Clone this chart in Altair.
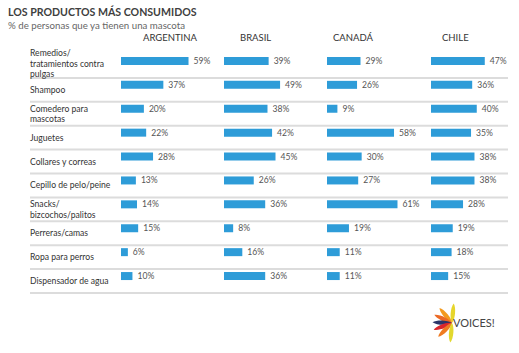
import altair as alt
import pandas as pd

products = [
    "Remedios/\ntratamientos contra\npulgas",
    "Shampoo",
    "Comedero para\nmascotas",
    "Juguetes",
    "Collares y correas",
    "Cepillo de pelo/peine",
    "Snacks/\nbizcochos/palitos",
    "Perreras/camas",
    "Ropa para perros",
    "Dispensador de agua",
]
countries = ["ARGENTINA", "BRASIL", "CANADÁ", "CHILE"]
argentina = [59, 37, 20, 22, 28, 13, 14, 15, 6, 10]
brasil = [39, 49, 38, 42, 45, 26, 36, 8, 16, 36]
canada = [29, 26, 9, 58, 30, 27, 61, 19, 11, 11]
chile = [47, 36, 40, 35, 38, 38, 28, 19, 18, 15]

logo_colors = ["#E6D52B", "#F39A1E", "#EC6A25", "#2B3568", "#D9262C", "#EF7B22", "#E2D82E"]
logo_angles = [5, 320, 295, 272, 250, 225, 185]

series = {"ARGENTINA": argentina, "BRASIL": brasil, "CANADÁ": canada, "CHILE": chile}
rows = []
for c in countries:
    for p, v in zip(products, series[c]):
        rows.append({"country": c, "product": p, "value": v, "label": f"{v}%"})
df = pd.DataFrame(rows)

# one datum per label line; "slot" = line index relative to the middle of the label
line_rows = []
for i, p in enumerate(products):
    parts = p.split("\n")
    n = len(parts)
    for k, t in enumerate(parts):
        line_rows.append({"product": p, "text": t, "slot": k - (n - 1) / 2, "first": i == 0})
df_lines = pd.DataFrame(line_rows)
df_prod = pd.DataFrame({"product": products})
df_logo = pd.DataFrame({"color": logo_colors, "angle": logo_angles})

FONT = "Lato"
BLUE = "#2E9CD8"
GRID = "#DCDCDC"
H = 239
LH = 10.5

yscale = alt.Scale(domain=products, type="band", paddingInner=0, paddingOuter=0)


def ych(**kw):
    return alt.Y("product:N", sort=products, scale=yscale, axis=None, **kw)


def header(text, dx):
    return alt.TitleParams(text, anchor="start", dx=dx, fontSize=9.5, font=FONT,
                           fontWeight="normal", color="#333333", offset=12, frame="group")


label_layers = [
    alt.Chart(df_prod).mark_rule(color=GRID, strokeWidth=2).encode(
        y=ych(bandPosition=1), x=alt.value(22), x2=alt.value(113)),
]
combos = sorted({(r["slot"], r["first"]) for r in line_rows})
for slot, is_first in combos:
    off = slot * LH + (-2 if is_first else 0)
    label_layers.append(
        alt.Chart(df_lines)
        .transform_filter((alt.datum.slot == slot) & (alt.datum.first == is_first))
        .mark_text(align="left", baseline="middle", font=FONT, fontSize=8.6,
                   color="#333333", yOffset=off)
        .encode(y=ych(), x=alt.value(22), text="text:N")
    )
label_panel = alt.layer(*label_layers).properties(width=113, height=H, title=header(" ", 0))


def country_panel(name, width, dmax, dx, extra=None):
    base = alt.Chart(df).transform_filter(alt.datum.country == name)
    x = alt.X("value:Q", scale=alt.Scale(domain=[0, dmax], nice=False, zero=True), axis=None)
    layers = [
        base.mark_rule(color=GRID, strokeWidth=2).encode(y=ych(bandPosition=1)),
        base.mark_bar(color=BLUE, size=8, yOffset=-5).encode(x=x, y=ych()),
        base.mark_text(align="left", baseline="middle", dx=5, yOffset=-5, font=FONT,
                       fontSize=8.6, color="#555555").encode(x=x, y=ych(), text="label:N"),
    ]
    if extra:
        layers += extra
    return alt.layer(*layers).properties(width=width, height=H, title=header(name, dx))


logo = [
    alt.Chart(df_logo).mark_point(
        shape="M0,0 C-0.3,-0.4 -0.3,-1.6 0,-2 C0.3,-1.6 0.3,-0.4 0,0 Z",
        filled=True, opacity=1, size=380).encode(
        x=alt.value(21), y=alt.value(269), angle=alt.Angle("angle:Q", scale=None),
        color=alt.Color("color:N", scale=None)),
    alt.Chart(df_logo.head(1)).mark_text(text="VOICES!", align="left", baseline="middle",
                                         font=FONT, fontSize=11, color="#444444").encode(
        x=alt.value(22), y=alt.value(270)),
]

chart = alt.hconcat(
    label_panel,
    country_panel("ARGENTINA", 103, 90, 22),
    country_panel("BRASIL", 103, 90, 16),
    country_panel("CANADÁ", 104, 90, 6),
    country_panel("CHILE", 77, 67.3, 11, extra=logo),
    spacing=0,
    bounds="flush",
).properties(
    title=alt.TitleParams(
        "LOS PRODUCTOS MÁS CONSUMIDOS",
        subtitle="% de personas que ya tienen una mascota",
        anchor="start", font=FONT, fontSize=10.6, fontWeight="bold", color="#404040",
        subtitleFont=FONT, subtitleFontSize=9.7, subtitleColor="#666666",
        subtitlePadding=3, offset=-3,
    ),
    padding={"left": 8, "top": 7, "right": 0, "bottom": 0},
).configure_view(stroke=None).configure_concat(spacing=0)

chart.save("out.html", embed_options={"renderer": "svg", "actions": False})
